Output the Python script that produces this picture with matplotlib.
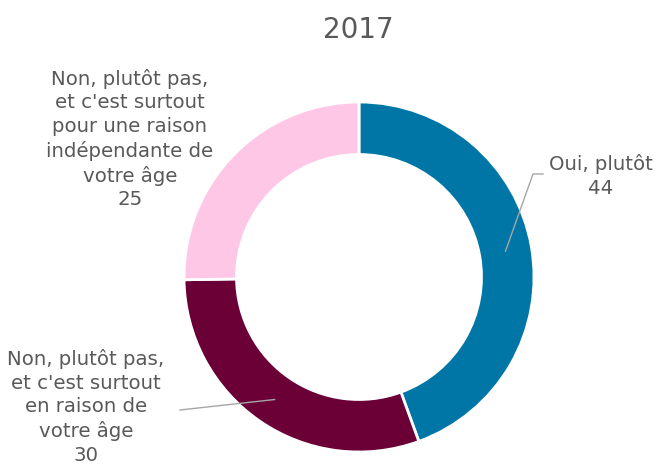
import numpy as np
import matplotlib.pyplot as plt

plt.rcParams["font.family"] = ["DejaVu Sans"]

# -----------------------------
# Data
# -----------------------------
labels = [
    "Oui, plutôt",
    "Non, plutôt pas,\net c'est surtout\nen raison de\nvotre âge",
    "Non, plutôt pas,\net c'est surtout\npour une raison\nindépendante de\nvotre âge",
]
values = [44, 30, 25]
colors = ["#0076A7", "#6B0037", "#FFC7E6"]
title = "2017"

TEXT = "#595959"
LINE = "#A6A6A6"

# -----------------------------
# Figure
# -----------------------------
W, H = 659, 466
fig = plt.figure(figsize=(W / 100, H / 100), dpi=100)

cx, cy, r = 359, 277, 175
ax = fig.add_axes([(cx - r) / W, (H - cy - r) / H, 2 * r / W, 2 * r / H])

ring = 0.30
wedges, _ = ax.pie(
    values,
    colors=colors,
    startangle=90,
    counterclock=False,
    radius=1,
    wedgeprops=dict(width=ring, edgecolor="white", linewidth=2),
)
ax.set_xlim(-1, 1)
ax.set_ylim(-1, 1)
ax.axis("off")


def px(x, y):
    # pixel position -> data coords
    return (x - cx) / r, (cy - y) / r


def mid_point(w):
    a = np.deg2rad((w.theta1 + w.theta2) / 2)
    rr = 1 - ring / 2
    return rr * np.cos(a), rr * np.sin(a)


fs = 14.2
ls = 1.3

# Oui label with elbow leader
mx, my = mid_point(wedges[0])
c1 = px(533, 174)
c2 = px(543, 174)
ax.plot([mx, c1[0], c2[0]], [my, c1[1], c2[1]], color=LINE, lw=1, clip_on=False)
tx, ty = px(601, 176)
ax.text(tx, ty, f"{labels[0]}\n{values[0]}", ha="center", va="center",
        fontsize=fs, color=TEXT, linespacing=ls, clip_on=False)

# age label with straight leader
mx, my = mid_point(wedges[1])
e = px(180, 410)
ax.plot([mx, e[0]], [my, e[1]], color=LINE, lw=1, clip_on=False)
tx, ty = px(86, 407)
ax.text(tx, ty, f"{labels[1]}\n{values[1]}", ha="center", va="center",
        fontsize=fs, color=TEXT, linespacing=ls, clip_on=False)

# other reason label
tx, ty = px(130, 139)
ax.text(tx, ty, f"{labels[2]}\n{values[2]}", ha="center", va="center",
        fontsize=fs, color=TEXT, linespacing=ls, clip_on=False)

fig.text(358 / W, 1 - 30 / H, title, ha="center", va="center",
         fontsize=20, color=TEXT)

fig.savefig("out.png", dpi=100)
